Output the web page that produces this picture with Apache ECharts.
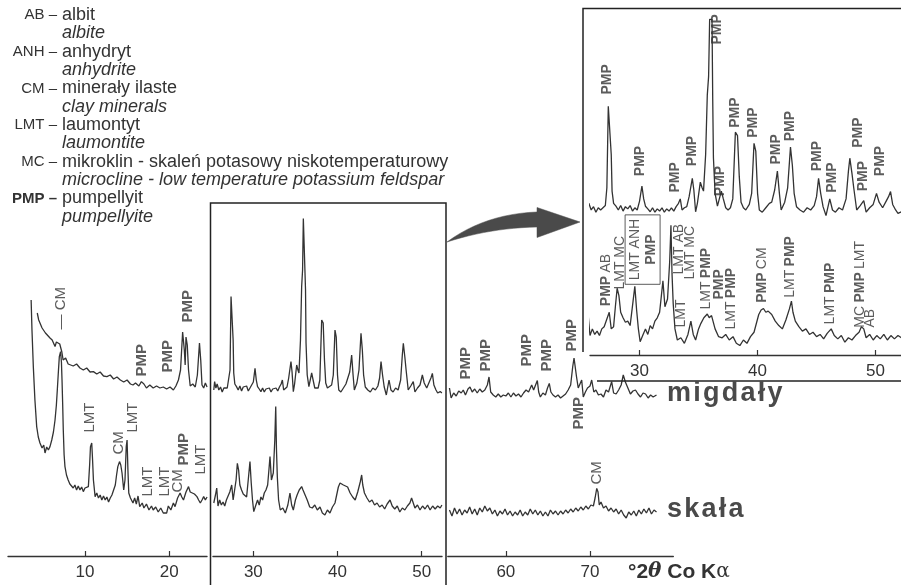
<!DOCTYPE html>
<html><head><meta charset="utf-8">
<script src="https://cdn.jsdelivr.net/npm/echarts@6/dist/echarts.min.js"></script>
<style>html,body{margin:0;padding:0;background:#fff}#c{width:901px;height:585px}</style>
</head><body><div id="c"></div>
<script>
// ---------- DATA (2θ in degrees, intensity in arbitrary counts) ----------
// upper trace "migdały", three measured ranges
const migdalyA = [[4.33,435],[4.5,400],[4.7,410],[4.9,360],[5.05,350],[5.3,335],[5.5,340],[5.84,310],[6.1,300],[6.44,267],[6.6,290],[6.8,292],[7.0,280],[7.1,275],[7.25,240],[7.4,200],[7.7,210],[8.0,180],[8.2,185],[8.6,170],[9.0,180],[9.4,160],[9.8,150],[10.2,160],[10.6,140],[11.0,142],[11.4,130],[11.8,140],[12.2,120],[12.6,117],[13.0,125],[13.4,105],[13.8,115],[14.2,100],[14.6,90],[15.0,100],[15.4,80],[15.7,75],[16.0,85],[16.4,70],[16.7,92],[17.0,80],[17.3,60],[17.7,75],[18.1,60],[18.5,70],[18.9,60],[19.3,65],[19.7,55],[20.1,65],[20.5,50],[20.8,70],[21.1,100],[21.35,150],[21.6,340],[21.8,250],[21.9,175],[22.0,315],[22.15,275],[22.3,150],[22.5,70],[22.8,80],[23.1,65],[23.35,125],[23.6,285],[23.75,200],[23.9,75],[24.1,60],[24.3,85],[24.5,65]];
const migdalyB = [[25.3,50],[25.4,92],[25.55,60],[25.7,80],[25.9,50],[26.1,65],[26.3,40],[26.5,60],[26.7,50],[26.9,60],[27.1,70],[27.23,150],[27.35,517],[27.5,525],[27.6,300],[27.67,135],[27.8,80],[28.0,67],[28.2,50],[28.4,70],[28.6,45],[28.8,65],[29.0,55],[29.2,70],[29.4,45],[29.6,60],[29.8,50],[30.0,90],[30.2,158],[30.35,100],[30.5,67],[30.7,55],[30.9,42],[31.1,60],[31.3,40],[31.5,55],[31.7,45],[31.9,60],[32.1,40],[32.3,55],[32.5,45],[32.7,60],[32.9,45],[33.1,65],[33.3,80],[33.45,100],[33.6,50],[33.8,60],[34.0,65],[34.2,110],[34.47,192],[34.6,140],[34.75,42],[34.9,80],[35.15,175],[35.3,150],[35.42,135],[35.6,300],[35.74,567],[35.85,650],[35.94,908],[36.14,908],[36.2,550],[36.26,285],[36.4,125],[36.6,67],[36.93,135],[37.1,100],[37.3,60],[37.5,50],[37.7,60],[37.9,100],[38.12,400],[38.3,385],[38.45,200],[38.6,85],[38.8,60],[39.0,50],[39.3,75],[39.5,125],[39.7,350],[39.85,315],[40.0,125],[40.15,50],[40.4,40],[40.7,60],[41.0,80],[41.2,85],[41.45,140],[41.68,225],[41.85,125],[42.0,50],[42.3,85],[42.55,150],[42.79,333],[42.95,250],[43.1,125],[43.3,65],[43.6,50],[43.9,40],[44.2,60],[44.5,50],[44.8,70],[45.0,110],[45.17,192],[45.35,125],[45.55,65],[45.8,25],[46.12,100],[46.35,50],[46.6,40],[46.9,60],[47.2,50],[47.5,100],[47.7,225],[47.82,283],[48.0,215],[48.15,150],[48.4,50],[48.7,70],[49.0,92],[49.2,40],[49.5,60],[49.8,75],[50.08,125],[50.3,85],[50.6,60],[50.9,90],[51.1,110],[51.27,133],[51.45,75],[51.7,50],[51.9,35],[52.2,42],[52.4,35]];
const migdalyC = [[53.3,60],[53.5,10],[53.8,35],[54.1,20],[54.4,45],[54.7,35],[54.94,50],[55.2,25],[55.5,55],[55.74,65],[56.0,40],[56.3,55],[56.6,35],[56.9,55],[57.2,40],[57.5,50],[57.8,75],[58.0,115],[58.2,40],[58.5,25],[58.8,15],[59.1,30],[59.4,15],[59.7,25],[60.0,20],[60.3,35],[60.6,15],[60.9,35],[61.2,20],[61.5,30],[61.8,15],[62.1,35],[62.4,50],[62.7,40],[63.07,75],[63.3,50],[63.5,60],[63.74,97],[63.9,40],[64.1,15],[64.4,35],[64.7,25],[64.95,60],[65.16,83],[65.35,40],[65.6,25],[65.9,15],[66.2,25],[66.5,10],[66.8,20],[67.1,30],[67.4,50],[67.7,75],[67.94,165],[68.1,210],[68.22,217],[68.4,115],[68.6,60],[68.8,50],[69.01,100],[69.2,15],[69.45,40],[69.7,60],[70.0,70],[70.2,100],[70.45,40],[70.7,50],[71.0,25],[71.3,30],[71.6,15],[71.9,50],[72.2,40],[72.57,92],[72.8,35],[73.1,30],[73.4,50],[73.7,75],[73.95,125],[74.2,90],[74.5,60],[74.8,30],[75.1,45],[75.4,50],[75.7,30],[76.0,15],[76.3,35],[76.6,30],[76.9,10],[77.2,25],[77.5,15],[77.9,25]];
// lower trace "skała"
const skalaA = [[3.6,1100],[3.7,950],[3.86,767],[4.05,600],[4.26,467],[4.45,415],[4.65,385],[4.9,360],[5.1,375],[5.25,335],[5.45,365],[5.65,350],[5.84,367],[6.05,400],[6.25,440],[6.44,500],[6.6,575],[6.71,650],[6.85,750],[6.95,817],[7.1,842],[7.2,790],[7.27,700],[7.35,575],[7.42,450],[7.52,325],[7.62,267],[7.8,225],[8.0,200],[8.2,180],[8.4,190],[8.6,160],[8.8,175],[9.0,150],[9.2,170],[9.4,150],[9.6,165],[9.8,142],[10.0,160],[10.2,150],[10.4,167],[10.55,275],[10.65,367],[10.8,385],[10.9,300],[11.0,200],[11.2,117],[11.4,135],[11.6,110],[11.8,125],[12.0,100],[12.2,120],[12.4,100],[12.6,115],[12.8,90],[13.0,110],[13.2,125],[13.4,135],[13.6,175],[13.75,225],[13.9,267],[14.1,292],[14.25,275],[14.4,235],[14.6,150],[14.75,200],[14.9,367],[15.0,400],[15.1,250],[15.2,135],[15.4,110],[15.7,85],[15.9,110],[16.1,80],[16.3,120],[16.5,67],[16.8,85],[17.0,60],[17.3,80],[17.6,50],[17.9,70],[18.1,50],[18.4,65],[18.7,40],[19.0,60],[19.3,35],[19.7,35],[19.9,70],[20.2,50],[20.5,85],[20.7,67],[21.0,110],[21.3,135],[21.5,115],[21.7,100],[22.0,140],[22.3,167],[22.5,140],[22.7,150],[23.0,130],[23.3,117],[23.5,100],[23.7,85],[23.9,100],[24.1,117],[24.3,100],[24.5,115]];
const skalaB = [[25.3,85],[25.5,125],[25.65,160],[25.8,70],[26.0,100],[26.2,75],[26.4,90],[26.6,70],[26.8,100],[27.0,110],[27.2,140],[27.43,175],[27.6,100],[27.8,110],[27.95,200],[28.1,283],[28.25,250],[28.4,175],[28.6,150],[28.8,130],[29.0,135],[29.2,115],[29.45,225],[29.6,292],[29.75,185],[29.9,100],[30.05,42],[30.3,75],[30.5,100],[30.7,75],[30.9,115],[31.1,100],[31.3,135],[31.5,150],[31.7,175],[31.85,250],[31.98,317],[32.15,200],[32.37,235],[32.55,400],[32.66,567],[32.75,350],[32.85,215],[33.0,100],[33.2,50],[33.5,60],[33.8,35],[34.1,75],[34.35,135],[34.55,75],[34.75,50],[35.0,100],[35.2,125],[35.45,150],[35.74,167],[35.9,150],[36.1,160],[36.4,100],[36.7,65],[37.0,60],[37.3,75],[37.6,50],[37.92,65],[38.2,35],[38.5,25],[38.8,50],[39.1,35],[39.4,65],[39.7,85],[40.1,165],[40.3,185],[40.5,192],[40.7,175],[40.9,180],[41.2,165],[41.5,135],[41.8,115],[42.1,100],[42.4,140],[42.7,190],[42.87,225],[43.0,175],[43.2,135],[43.5,110],[43.8,90],[44.1,100],[44.4,75],[44.7,85],[45.0,65],[45.3,75],[45.6,55],[45.9,80],[46.24,100],[46.5,70],[46.8,55],[47.1,70],[47.4,40],[47.7,60],[48.0,50],[48.3,70],[48.6,85],[48.8,110],[49.0,100],[49.2,60],[49.5,75],[49.8,50],[50.1,70],[50.4,55],[50.7,75],[51.0,50],[51.3,70],[51.6,55],[51.9,70],[52.2,60],[52.4,75]];
const skalaC = [[53.3,50],[53.6,20],[53.9,60],[54.2,30],[54.5,55],[54.8,25],[55.1,50],[55.4,35],[55.7,65],[56.0,30],[56.3,55],[56.6,25],[56.9,60],[57.2,40],[57.5,70],[57.8,45],[58.1,60],[58.4,30],[58.7,50],[59.0,20],[59.3,45],[59.6,30],[59.9,55],[60.2,25],[60.5,45],[60.8,20],[61.1,40],[61.4,25],[61.7,50],[62.0,20],[62.3,40],[62.6,25],[62.9,55],[63.2,30],[63.5,50],[63.8,25],[64.1,45],[64.4,20],[64.7,40],[65.0,20],[65.3,50],[65.6,30],[65.9,45],[66.2,25],[66.5,45],[66.8,30],[67.1,50],[67.4,35],[67.7,55],[68.0,40],[68.3,60],[68.6,45],[68.9,65],[69.2,50],[69.5,70],[69.8,55],[70.1,75],[70.4,70],[70.6,110],[70.8,158],[70.95,140],[71.1,75],[71.3,90],[71.6,60],[71.9,70],[72.2,45],[72.5,60],[72.8,40],[73.1,55],[73.4,30],[73.7,50],[74.0,25],[74.3,10],[74.6,40],[74.9,25],[75.2,45],[75.5,20],[75.8,50],[76.1,30],[76.4,55],[76.7,35],[77.0,60],[77.3,30],[77.6,50],[77.9,40]];

// tick labels
const ticksA = [10, 20];
const ticksB = [30, 40, 50];
const ticksC = [60, 70];
const ticksInset = [30, 40, 50];

// peak annotations: [2θ, counts at text start, text]
const labelsUpperA = [[7.23,350,'{n|— CM}'],[16.85,115,'{b|PMP}'],[19.9,135,'{b|PMP}'],[22.3,385,'{b|PMP}']];
const labelsUpperC = [[55.35,100,'{b|PMP}'],[57.7,140,'{b|PMP}'],[62.55,165,'{b|PMP}'],[64.9,140,'{b|PMP}'],[67.9,240,'{b|PMP}'],[68.7,-150,'{b|PMP}']];
const labelsLowerA = [[10.67,435,'{n|LMT}'],[14.08,325,'{n|CM}'],[15.74,435,'{n|LMT}'],[17.5,115,'{n|LMT}'],[19.6,115,'{n|LMT}'],[21.1,135,'{n|CM}'],[21.76,270,'{b|PMP}'],[23.86,225,'{n|LMT}']];
const labelsLowerC = [[70.86,175,'{n|CM}']];
const labelsInsetUpper = [[27.31,567,'{b|PMP}'],[30.06,200,'{b|PMP}'],[33.05,126,'{b|PMP}'],[34.5,245,'{b|PMP}'],[36.6,792,'{b|PMP}'],[36.9,110,'{b|PMP}'],[38.14,418,'{b|PMP}'],[39.69,373,'{b|PMP}'],[41.64,252,'{b|PMP}'],[42.77,357,'{b|PMP}'],[45.06,222,'{b|PMP}'],[46.33,125,'{b|PMP}'],[48.58,328,'{b|PMP}'],[49.0,132,'{b|PMP}'],[50.42,200,'{b|PMP}']];
const labelsInsetLower = [[27.18,200,'{b|PMP} {n|AB}'],[28.39,275,'{n|LMT MC}'],[30.3,455,'{n|LMT ANH}\n{b|PMP}','box'],[33.39,343,'{n|LMT AB}'],[33.53,104,'{n|LMT}'],[34.32,320,'{n|LMT MC}'],[35.65,185,'{n|LMT} {b|PMP}'],[36.78,230,'{b|PMP}'],[37.77,95,'{n|LMT} {b|PMP}'],[40.45,215,'{b|PMP} {n|CM}'],[42.8,238,'{n|LMT} {b|PMP}'],[46.19,118,'{n|LMT} {b|PMP}'],[48.76,103,'{n|MC} {b|PMP} {n|LMT}'],[49.58,104,'{n|AB}']];

// legend
const legendAbbr = ['AB', 'ANH', 'CM', 'LMT', 'MC', 'PMP'];
const legendPl = ['albit', 'anhydryt', 'minerały ilaste', 'laumontyt', 'mikroklin - skaleń potasowy niskotemperaturowy', 'pumpellyit'];
const legendEn = ['albite', 'anhydrite', 'clay minerals', 'laumontite', 'microcline - low temperature potassium feldspar', 'pumpellyite'];
const traceNames = ['migdały', 'skała'];
const axisTitle = '{a|°2}{i|θ}{a| Co K}{g|α}';

// ---------- LAYOUT ----------
const FF = '"Liberation Sans", Arial, Helvetica, sans-serif';
const TXT = '#333';
const LINE = '#333';
const mainPx = d => 0.83 + 8.417 * d;          // layout helper for main axis placement
const ranges = [[0.85, 24.5], [25.2, 52.42], [53.1, 79.9]];
const mainTop = 200, mainH = 356;
const upperY = [-780, 1000], lowerY = [-180, 1600];
const inset = {left: 590, top: 10, width: 311, height: 345, min: 25.8, max: 25.8 + 311 / 11.8};
const insetUpperY = [-602.6, 950], insetLowerY = [-17.6, 1536.5];

const grids = [], xAxes = [], yAxes = [];
const tickSets = [ticksA, ticksB, ticksC];
function addGrid(left, top, width, height, xmin, xmax, ticks, yu, yl) {
  const gi = grids.length;
  grids.push({left, top, width, height, containLabel: false});
  xAxes.push({type: 'value', gridIndex: gi, min: xmin, max: xmax, scale: true, position: 'bottom',
    axisLine: {show: true, onZero: false, lineStyle: {color: '#333', width: 1.3}},
    axisTick: {show: true, inside: true, length: 5, customValues: ticks, lineStyle: {color: '#333', width: 1.2}},
    axisLabel: {show: true, customValues: ticks, fontSize: 17, color: TXT, fontFamily: FF, margin: 8},
    splitLine: {show: false}, minorTick: {show: false}});
  yAxes.push({type: 'value', gridIndex: gi, min: yu[0], max: yu[1], show: false, splitLine: {show: false}});
  yAxes.push({type: 'value', gridIndex: gi, min: yl[0], max: yl[1], show: false, splitLine: {show: false}});
  return gi;
}
ranges.forEach((r, i) => addGrid(mainPx(r[0]), mainTop, 8.417 * (r[1] - r[0]), mainH, r[0], r[1], tickSets[i], upperY, lowerY));
addGrid(inset.left, inset.top, inset.width, inset.height, inset.min, inset.max, ticksInset, insetUpperY, insetLowerY);

function trace(data, gi, lower) {
  return {type: 'line', data, xAxisIndex: gi, yAxisIndex: gi * 2 + (lower ? 1 : 0),
    symbol: 'none', showSymbol: false, clip: true, silent: true, animation: false, z: 3,
    lineStyle: {color: LINE, width: 1.3}};
}
function rich(size) {
  return {b: {fontFamily: FF, fontWeight: 'bold', fontSize: size, color: TXT, lineHeight: size + 2},
          n: {fontFamily: FF, fontSize: size, color: TXT, lineHeight: size + 2}};
}
function annot(list, gi, lower, size) {
  return {type: 'scatter', xAxisIndex: gi, yAxisIndex: gi * 2 + (lower ? 1 : 0),
    symbolSize: 1, itemStyle: {color: 'rgba(0,0,0,0)'}, silent: true, animation: false, z: 6, clip: false,
    data: list.map(d => {
      const item = {value: [d[0], d[1]], name: d[2]};
      if (d[3] === 'box') item.label = {align: 'center', verticalAlign: 'middle', borderColor: '#333', borderWidth: 1, padding: [2, 4, 1, 4]};
      return item;
    }),
    label: {show: true, formatter: p => p.name, rotate: 90, position: [0, 0], align: 'left', verticalAlign: 'middle', rich: rich(size)}};
}

const series = [
  trace(migdalyA, 0, false), trace(migdalyB, 1, false), trace(migdalyC, 2, false),
  trace(skalaA, 0, true), trace(skalaB, 1, true), trace(skalaC, 2, true),
  trace(migdalyB, 3, false), trace(skalaB, 3, true),
  annot(labelsUpperA, 0, false, 15), annot(labelsUpperC, 2, false, 15),
  annot(labelsLowerA, 0, true, 15), annot(labelsLowerC, 2, true, 15),
  annot(labelsInsetUpper, 3, false, 14), annot(labelsInsetLower, 3, true, 14)
];

// ---------- GRAPHIC DECORATIONS ----------
const spaced = s => s.split('').join('\u200A');
const graphic = [];
legendAbbr.forEach((a, i) => {
  const y1 = 15 + 36.7 * i, y2 = y1 + 18.3;
  graphic.push({type: 'text', x: 57, y: y1, style: {text: a + ' –', font: (a === 'PMP' ? 'bold ' : '') + '15px ' + FF, fill: TXT, align: 'right', verticalAlign: 'middle'}});
  graphic.push({type: 'text', x: 62, y: y1, style: {text: legendPl[i], font: '18px ' + FF, fill: TXT, align: 'left', verticalAlign: 'middle'}});
  graphic.push({type: 'text', x: 62, y: y2, style: {text: legendEn[i], font: 'italic 18px ' + FF, fill: TXT, align: 'left', verticalAlign: 'middle'}});
});
// zoom box around the middle range
graphic.push({type: 'polyline', shape: {points: [[210.5, 590], [210.5, 203], [446, 203], [446, 590]]}, style: {stroke: '#222', lineWidth: 1.5, fill: null}, z: 10});
// inset frame
graphic.push({type: 'polyline', shape: {points: [[583, 352], [583, 8.5], [905, 8.5]]}, style: {stroke: '#222', lineWidth: 1.5, fill: null}, z: 10});
graphic.push({type: 'line', shape: {x1: 597, y1: 381, x2: 905, y2: 381}, style: {stroke: '#222', lineWidth: 1.5}, z: 10});
// curved arrow
(function () {
  const q = (p0, c, p2, t) => [(1 - t) * (1 - t) * p0[0] + 2 * (1 - t) * t * c[0] + t * t * p2[0], (1 - t) * (1 - t) * p0[1] + 2 * (1 - t) * t * c[1] + t * t * p2[1]];
  const pts = [];
  for (let k = 0; k <= 12; k++) pts.push(q([447, 242], [485, 214], [537, 212], k / 12));
  pts.push([537, 207.5], [580, 222], [537, 237.5]);
  for (let k = 0; k <= 12; k++) pts.push(q([537, 227], [490, 228], [447, 242], k / 12));
  graphic.push({type: 'polygon', shape: {points: pts}, style: {fill: '#4a4a4a', stroke: '#4a4a4a', lineWidth: 0.5}, z: 10});
})();
// trace names
graphic.push({type: 'text', x: 667, y: 407, style: {text: spaced(traceNames[0]), font: '900 27px ' + FF, fill: '#4a4a4a', align: 'left', verticalAlign: 'bottom'}, z: 10});
graphic.push({type: 'text', x: 667, y: 523, style: {text: spaced(traceNames[1]), font: '900 27px ' + FF, fill: '#4a4a4a', align: 'left', verticalAlign: 'bottom'}, z: 10});
// axis title
graphic.push({type: 'text', x: 628, y: 572, style: {text: axisTitle, align: 'left', verticalAlign: 'middle',
  rich: {a: {fontFamily: FF, fontWeight: 'bold', fontSize: 21, fill: '#333'},
         i: {fontFamily: '"DejaVu Serif", serif', fontStyle: 'italic', fontWeight: 'bold', fontSize: 20, fill: '#333'},
         g: {fontFamily: '"DejaVu Serif", serif', fontSize: 20, fill: '#333'}}}, z: 10});

const chart = echarts.init(document.getElementById('c'), null, {renderer: 'canvas'});
chart.setOption({animation: false, grid: grids, xAxis: xAxes, yAxis: yAxes, series, graphic});
</script></body></html>
